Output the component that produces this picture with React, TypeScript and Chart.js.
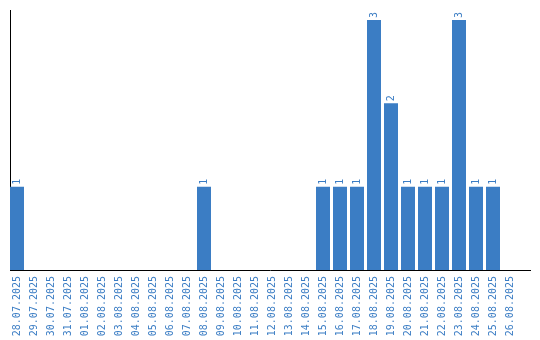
import React, { useEffect, useRef } from "react";
import { Chart, registerables } from "chart.js";

Chart.register(...registerables);

const dates: string[] = [
  "28.07.2025", "29.07.2025", "30.07.2025", "31.07.2025", "01.08.2025",
  "02.08.2025", "03.08.2025", "04.08.2025", "05.08.2025", "06.08.2025",
  "07.08.2025", "08.08.2025", "09.08.2025", "10.08.2025", "11.08.2025",
  "12.08.2025", "13.08.2025", "14.08.2025", "15.08.2025", "16.08.2025",
  "17.08.2025", "18.08.2025", "19.08.2025", "20.08.2025", "21.08.2025",
  "22.08.2025", "23.08.2025", "24.08.2025", "25.08.2025", "26.08.2025",
];

const counts: number[] = [
  1, 0, 0, 0, 0, 0, 0, 0, 0, 0,
  0, 1, 0, 0, 0, 0, 0, 0, 1, 1,
  1, 3, 2, 1, 1, 1, 3, 1, 1, 0,
];

const BLUE = "#3b7dc4";
const FONT = "'DejaVu Sans Mono', 'Liberation Mono', monospace";

const valueLabels = {
  id: "valueLabels",
  afterDatasetsDraw(chart: any) {
    const ctx = chart.ctx;
    const meta = chart.getDatasetMeta(0);
    ctx.save();
    ctx.fillStyle = BLUE;
    ctx.font = `10px ${FONT}`;
    ctx.textAlign = "left";
    ctx.textBaseline = "middle";
    meta.data.forEach((bar: any, i: number) => {
      const v = counts[i];
      if (!v) return;
      ctx.save();
      ctx.translate(bar.x, bar.y - 2);
      ctx.rotate(-Math.PI / 2);
      ctx.fillText(String(v), 0, 0);
      ctx.restore();
    });
    ctx.restore();
  },
};

export default function App() {
  const ref = useRef<HTMLCanvasElement>(null);

  useEffect(() => {
    if (!ref.current) return;
    const chart = new Chart(ref.current, {
      type: "bar",
      data: {
        datasets: [
          {
            data: counts.map((v, i) => ({ x: i, y: v })),
            backgroundColor: BLUE,
            borderWidth: 0,
            categoryPercentage: 1,
            barPercentage: 14 / 17,
          },
        ],
      },
      options: {
        animation: false,
        responsive: false,
        layout: { padding: { left: 10, top: 10, right: 10, bottom: 0 } },
        plugins: {
          legend: { display: false },
          tooltip: { enabled: false },
        },
        scales: {
          x: {
            type: "linear",
            offset: false,
            min: -7 / 17,
            max: 513 / 17,
            grid: { display: false, drawTicks: false },
            border: { display: true, color: "#000", width: 1 },
            ticks: {
              stepSize: 1,
              includeBounds: false,
              autoSkip: false,
              minRotation: 90,
              maxRotation: 90,
              padding: 6,
              color: BLUE,
              font: { family: FONT, size: 10 },
              callback: (v: any) =>
                Number.isInteger(v) && dates[v] ? dates[v] : "",
            },
            afterFit: (s: any) => {
              s.height = 70;
              s.paddingLeft = 0;
              s.paddingRight = 0;
            },
          },
          y: {
            min: 0,
            max: 3.12,
            grid: { display: false, drawTicks: false },
            border: { display: true, color: "#000", width: 1 },
            ticks: { display: false },
            afterFit: (s: any) => {
              s.width = 0;
            },
          },
        },
      },
      plugins: [valueLabels],
    });
    return () => chart.destroy();
  }, []);

  return (
    <div style={{ position: "fixed", left: 0, top: 0, width: 540, height: 340, background: "#fff" }}>
      <canvas ref={ref} width={540} height={340} style={{ display: "block" }} />
    </div>
  );
}
